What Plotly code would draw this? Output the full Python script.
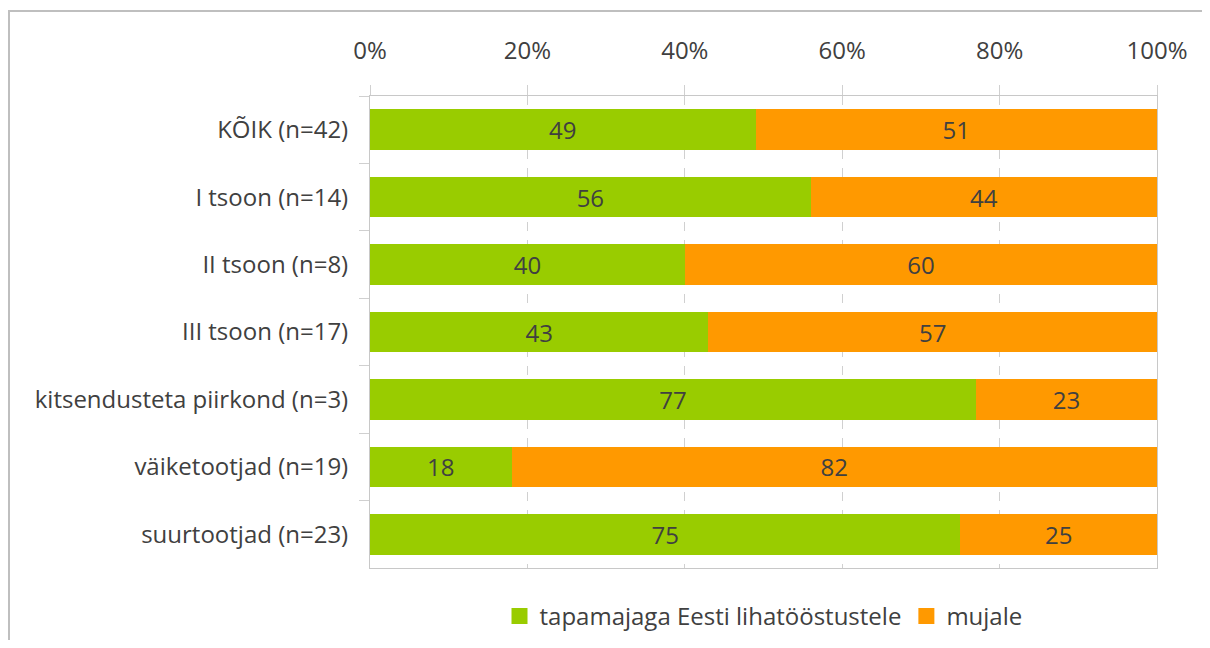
import plotly.graph_objects as go

# categories (top to bottom as in the chart)
categories = ['KÕIK (n=42)', 'I tsoon (n=14)', 'II tsoon (n=8)', 'III tsoon (n=17)',
              'kitsendusteta piirkond (n=3)', 'väiketootjad (n=19)', 'suurtootjad (n=23)']
tapamaja = [49, 56, 40, 43, 77, 18, 75]
mujale = [51, 44, 60, 57, 23, 82, 25]
series_names = ['tapamajaga Eesti lihatööstustele', 'mujale']
series_colors = ['#99CC00', '#FF9900']
tick_vals = [0, 20, 40, 60, 80, 100]
tick_text = ['0%', '20%', '40%', '60%', '80%', '100%']

font_family = 'Open Sans, Noto Sans, sans-serif'
text_color = '#404040'
fs = 24

fig = go.Figure()
for name, vals, col in zip(series_names, [tapamaja, mujale], series_colors):
    fig.add_trace(go.Bar(y=categories, x=vals, orientation='h', name=name, showlegend=False,
                         marker=dict(color=col, line=dict(width=0)),
                         text=vals, textposition='inside', insidetextanchor='middle', textangle=0,
                         textfont=dict(size=fs, color=text_color, family=font_family)))
    # legend entry with a bigger square swatch
    fig.add_trace(go.Scatter(x=[None], y=[None], mode='markers', name=name,
                             marker=dict(symbol='square', size=17, color=col)))

fig.update_layout(
    barmode='stack', bargap=0.4,
    width=1194, height=632,
    margin=dict(l=362, r=45, t=88, b=72, autoexpand=False),
    paper_bgcolor='white', plot_bgcolor='white',
    font=dict(family=font_family, size=fs, color=text_color),
    uniformtext=dict(mode='show', minsize=fs),
    legend=dict(orientation='h', x=0.5, xanchor='center', y=-0.055, yanchor='top',
                font=dict(size=fs, color=text_color), itemwidth=30, traceorder='normal'),
    xaxis=dict(side='top', range=[0, 100], tickvals=tick_vals, ticktext=tick_text,
               showgrid=True, gridcolor='#D0D0D0', griddash='dash', gridwidth=1,
               ticks='outside', ticklen=10, tickcolor='#D0D0D0', ticklabelstandoff=16,
               showline=True, linecolor='#C8C8C8', linewidth=1, mirror=True,
               tickfont=dict(size=fs, color=text_color), zeroline=False),
    yaxis=dict(autorange='reversed', tickson='boundaries', ticks='outside', ticklen=10,
               tickcolor='#D0D0D0', ticklabelstandoff=16,
               showline=True, linecolor='#C8C8C8', linewidth=1, mirror=True,
               showgrid=False, tickfont=dict(size=fs, color=text_color)),
    shapes=[dict(type='rect', xref='paper', yref='paper', x0=-0.4587, x1=1.3, y0=-0.3, y1=1.18,
                 line=dict(color='#BFBFBF', width=2), layer='below')],
)

fig.write_html("out.html")
